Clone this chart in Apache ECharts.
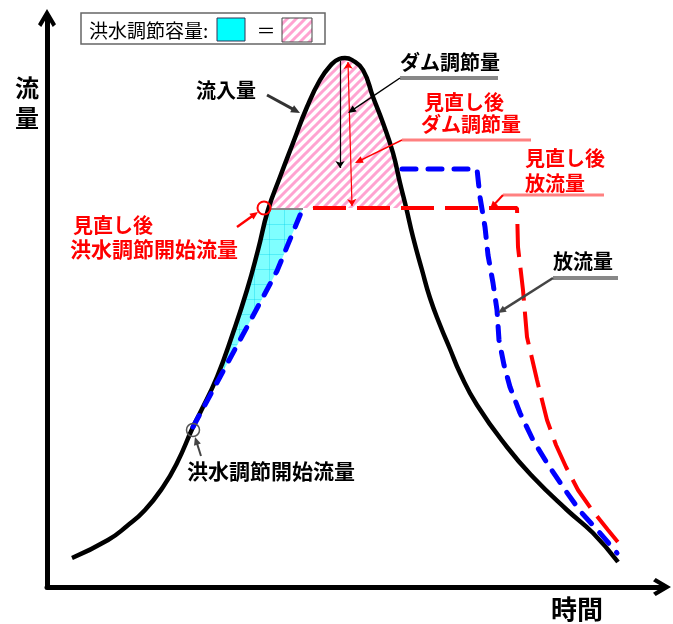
<!DOCTYPE html>
<html><head><meta charset="utf-8">
<script src="https://cdn.jsdelivr.net/npm/echarts@6/dist/echarts.min.js"></script>
<style>html,body{margin:0;padding:0;background:#fff}#c{width:673px;height:624px}</style>
</head><body><div id="c"></div>
<script>
// ---- data (time, flow) ----
const inflow = [[25,29],[61,47],[80,61],[98,77],[116,100],[130,124],[146,160],[153,174],[170,210],[186,254],[200,297],[211,337],[221,377],[233,410],[246,444],[260,480],[273,507],[284,522],[292,528],[298,529],[305,527],[316,517],[326,490],[336,464],[346,434],[353,404],[359,380],[366,350],[375,317],[383,289],[393,262],[403,238],[413,214],[430,182],[460,140],[486,110],[520,77],[546,54],[571,25]];
const outflowRise = [[146,160],[173,210],[200,260],[230,316],[256,379]];
const outflowFall = [[355,418],[430,418],[433,390],[438,360],[441,332],[446,304],[450,277],[452,247],[457,222],[463,200],[473,174],[486,147],[500,124],[516,100],[533,76],[553,54],[570,34]];
const outflowRevised = [[256,379],[470,379],[471,340],[476,297],[480,250],[490,207],[500,167],[509,142],[519,120],[531,97],[545,77],[561,57],[575,40]];
const revisedStartLevel = 379;
const damControl = [[293,526],[293,419]];
const damControlRevised = [[301,525],[305,381]];

const FONT = '"Noto Sans CJK JP", "Noto Sans CJK SC", sans-serif';

// hatch pattern
function hatch(){
  const n=9;
  const c=document.createElement('canvas'); c.width=n; c.height=n;
  const g=c.getContext('2d'); g.fillStyle='#ffffff'; g.fillRect(0,0,n,n);
  g.strokeStyle='#ffa3d1'; g.lineWidth=3; g.lineCap='square';
  g.beginPath(); g.moveTo(0,n); g.lineTo(n,0); g.moveTo(-2,2); g.lineTo(2,-2); g.moveTo(n-2,n+2); g.lineTo(n+2,n-2); g.stroke();
  return c;
}
function cyanTex(){
  const c=document.createElement('canvas'); c.width=15; c.height=15;
  const g=c.getContext('2d'); g.fillStyle='#7fffff'; g.fillRect(0,0,15,15);
  g.strokeStyle='rgba(0,210,235,0.35)'; g.lineWidth=1;
  g.beginPath(); g.moveTo(14.5,0); g.lineTo(14.5,15); g.moveTo(0,14.5); g.lineTo(15,14.5); g.stroke();
  return c;
}
const hatchImg = hatch(), cyanImg = cyanTex();

// intersections of inflow with the revised level
function crossings(arr, lvl){
  const res=[];
  for(let i=0;i<arr.length-1;i++){
    const a=arr[i], b=arr[i+1];
    if((a[1]-lvl)*(b[1]-lvl)<0){
      const t=a[0]+(lvl-a[1])*(b[0]-a[0])/(b[1]-a[1]);
      res.push({i, t});
    }
  }
  return res;
}
const cr = crossings(inflow, revisedStartLevel);
const pinkData = [[cr[0].t, revisedStartLevel]].concat(inflow.slice(cr[0].i+1, cr[1].i+1)).concat([[cr[1].t, revisedStartLevel]]);
const startIdx = inflow.findIndex(p=>p[0]===outflowRise[0][0]);
const cyanPoly = inflow.slice(startIdx, cr[0].i+1).concat([[cr[0].t, revisedStartLevel]]).concat(outflowRise.slice().reverse());

const chart = echarts.init(document.getElementById('c'), null, {renderer:'canvas'});

function arrow(x1,y1,x2,y2,color,w,hs){
  const a=Math.atan2(y2-y1,x2-x1), c=Math.cos(a), s=Math.sin(a);
  const p1=[x2-hs*c+hs*0.45*s, y2-hs*s-hs*0.45*c];
  const p2=[x2-hs*c-hs*0.45*s, y2-hs*s+hs*0.45*c];
  return [
    {type:'line', z:100, shape:{x1:x1,y1:y1,x2:x2-hs*0.6*c,y2:y2-hs*0.6*s}, style:{stroke:color,lineWidth:w}},
    {type:'polygon', z:100, shape:{points:[[x2,y2],p1,p2]}, style:{fill:color}}
  ];
}
function txt(x,y,t,color,size,weight,align){
  return {type:'text', z:100, x:x, y:y, style:{text:t, fill:color, font:(weight||'bold')+' '+size+'px '+FONT, align:align||'left', verticalAlign:'middle', textAlign:align||'left', textVerticalAlign:'middle'}};
}
function uline(x1,x2,y,color,w){
  return {type:'line', z:100, shape:{x1:x1,y1:y,x2:x2,y2:y}, style:{stroke:color,lineWidth:w}};
}

const RED='#ff0000', PINKLINE='#ff8080', GRAY='#888888';
let graphics = [
  // legend box
  {type:'rect', z:100, shape:{x:81,y:13,width:244,height:31}, style:{fill:'#fff', stroke:'#666', lineWidth:1.5}},
  txt(89,31,'洪水調節容量:','#000',19,'normal'),
  {type:'rect', z:100, shape:{x:217,y:18,width:28,height:23}, style:{fill:'#00ffff', stroke:'#335', lineWidth:1}},
  txt(266,31,'＝','#000',19,'normal','center'),
  {type:'rect', z:100, shape:{x:282,y:18,width:30,height:24}, style:{fill:{image:hatchImg, repeat:'repeat'}, stroke:'#444', lineWidth:1}},
  // axis titles
  txt(27,88,'流','#000',24,'bold','center'),
  txt(27,118,'量','#000',24,'bold','center'),
  txt(577,609,'時間','#000',26,'bold','center'),
  // labels
  txt(196,90,'流入量','#000',20),
  txt(400,62,'ダム調節量','#000',20),
  uline(400,498,78,GRAY,4),
  txt(424,102,'見直し後',RED,20),
  txt(421,124,'ダム調節量',RED,20),
  uline(402,531,140,PINKLINE,3),
  txt(525,158,'見直し後',RED,20),
  txt(525,183,'放流量',RED,20),
  uline(503,604,195,PINKLINE,3),
  txt(553,261,'放流量','#000',20),
  uline(553,618,278,GRAY,4),
  txt(73,225,'見直し後',RED,20),
  txt(70,249,'洪水調節開始流量',RED,21),
  txt(187,471,'洪水調節開始流量','#000',21),
  {type:'circle', z:100, shape:{cx:264,cy:208,r:6.5}, style:{fill:'none', stroke:RED, lineWidth:2}},
  {type:'circle', z:100, shape:{cx:193,cy:430,r:6.5}, style:{fill:'none', stroke:'#555', lineWidth:1.5}}
];
graphics = graphics
  .concat(arrow(267,95,300,113,'#333',3,9))
  .concat(arrow(400,78,348,113,'#000',1.5,8))
  .concat(arrow(402,140,355,163,RED,1.5,8))
  .concat(arrow(503,195,490,209,RED,2,8))
  .concat(arrow(553,278,498,313,'#444',2.5,8))
  .concat(arrow(237,227,258,212,RED,2.5,8))
  .concat(arrow(201,456,195,437,'#444',2,8));

const chevron = 'path://M5,0 L10,8.5 L8.2,10 L5,4.6 L1.8,10 L0,8.5 Z';

chart.setOption({
  animation:false,
  backgroundColor:'#fff',
  grid:{left:47, right:11, top:18, bottom:37},
  xAxis:{type:'value', min:0, max:615, axisLine:{show:true, lineStyle:{color:'#000', width:5}, symbol:['none', chevron], symbolSize:[18,20]}, axisTick:{show:false}, axisLabel:{show:false}, splitLine:{show:false}},
  yAxis:{type:'value', min:0, max:569, axisLine:{show:true, onZero:false, lineStyle:{color:'#000', width:5}, symbol:['none', chevron], symbolSize:[18,20]}, axisTick:{show:false}, axisLabel:{show:false}, splitLine:{show:false}},
  series:[
    {type:'custom', name:'洪水調節容量', z:1, silent:true,
     data:[0],
     renderItem:function(params, api){
       const pts = cyanPoly.map(p=>api.coord(p));
       const a = api.coord([cr[0].t, revisedStartLevel]), b = api.coord(outflowRise[outflowRise.length-1]);
       return {type:'group', children:[
         {type:'polygon', shape:{points:pts}, style:{fill:{image:cyanImg, repeat:'repeat'}, stroke:null}},
         {type:'line', shape:{x1:a[0],y1:a[1],x2:b[0],y2:b[1]}, style:{stroke:GRAY, lineWidth:4}}
       ]};
     }},
    {type:'line', name:'ダム調節量', z:1, data:pinkData, smooth:true, symbol:'none', silent:true,
     lineStyle:{width:0}, areaStyle:{origin:revisedStartLevel, opacity:1, color:{image:hatchImg, repeat:'repeat'}}},
    {type:'line', name:'流入量', z:4, data:inflow, smooth:true, symbol:'none', lineStyle:{color:'#000', width:4.5}},
    {type:'line', name:'放流量1', z:5, data:outflowRise, symbol:'none', lineStyle:{color:'#0000ff', width:5, type:[13,12], cap:'round'}},
    {type:'line', name:'放流量2', z:5, data:outflowFall, symbol:'none', lineStyle:{color:'#0000ff', width:5, type:[14,12], cap:'round', join:'round'}},
    {type:'line', name:'見直し後放流量', z:6, data:outflowRevised, symbol:'none', lineStyle:{color:'#ff0000', width:4, type:[33,11], dashOffset:34}},
    {type:'lines', coordinateSystem:'cartesian2d', z:7, polyline:false, symbol:['none','arrow'], symbolSize:7,
     lineStyle:{color:'#000', width:1.2, opacity:1}, data:[{coords:damControl}]},
    {type:'lines', coordinateSystem:'cartesian2d', z:7, polyline:false, symbol:['arrow','arrow'], symbolSize:7,
     lineStyle:{color:'#ff0000', width:1.2, opacity:1}, data:[{coords:damControlRevised}]}
  ],
  graphic:graphics
});
</script></body></html>
